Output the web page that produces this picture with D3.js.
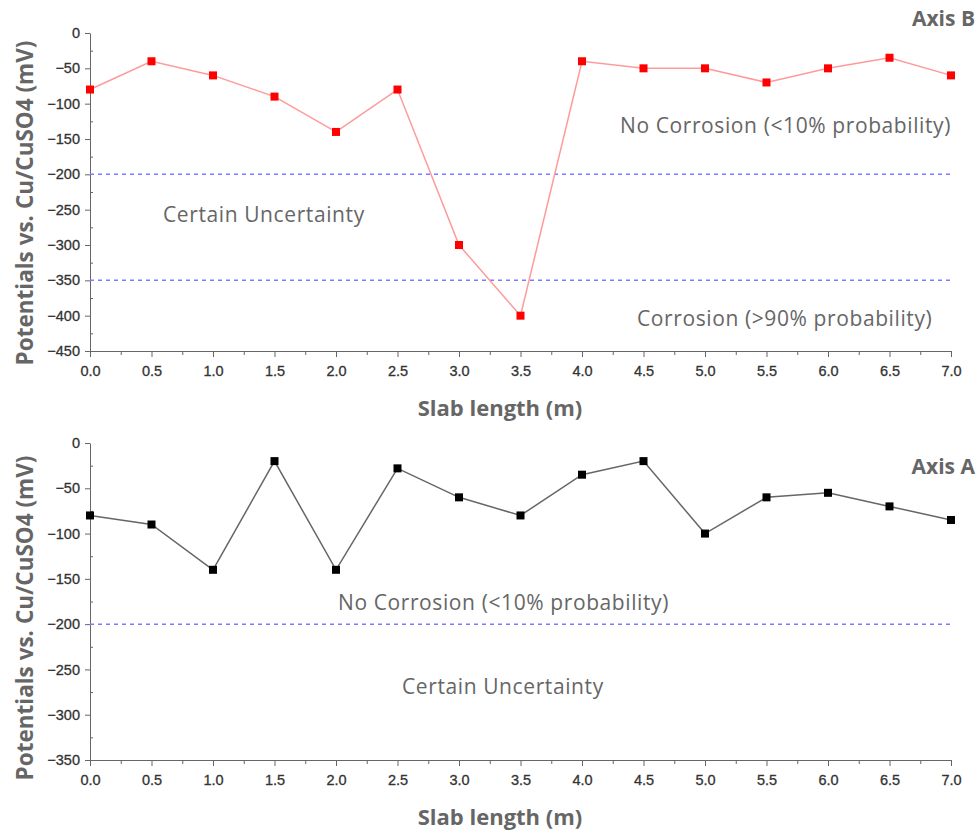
<!DOCTYPE html>
<html>
<head>
<meta charset="utf-8">
<script src="https://cdn.jsdelivr.net/npm/d3@7"></script>
<style>
  body { margin: 0; background: #fff; }
  .domain, .tick line { stroke: #666; }
</style>
</head>
<body>
<script>
// slab positions (m)
var slab = [0, 0.5, 1, 1.5, 2, 2.5, 3, 3.5, 4, 4.5, 5, 5.5, 6, 6.5, 7];
// potentials (mV)
var axisB = [-80, -40, -60, -90, -140, -80, -300, -400, -40, -50, -50, -70, -50, -35, -60];
var axisA = [-80, -90, -140, -20, -140, -28, -60, -80, -35, -20, -100, -60, -55, -70, -85];
var xTicks = [0, 0.5, 1, 1.5, 2, 2.5, 3, 3.5, 4, 4.5, 5, 5.5, 6, 6.5, 7];
var yTicksB = [0, -50, -100, -150, -200, -250, -300, -350, -400, -450];
var yTicksA = [0, -50, -100, -150, -200, -250, -300, -350];
var limitsB = [-200, -350];
var limitsA = [-200];
var notesB = ["No Corrosion (<10% probability)", "Certain Uncertainty", "Corrosion (>90% probability)"];
var notesA = ["No Corrosion (<10% probability)", "Certain Uncertainty"];

var width = 977;
var height = 835;

var svg = d3.select('body')
    .append('svg')
    .attr('width', width)
    .attr('height', height);

// tick label look
function styleTicks(s) {
    s.selectAll('.tick text')
        .attr('font-family', '"Liberation Sans", Arial, sans-serif')
        .attr('font-size', 14.5)
        .attr('fill', '#333')
        .attr('stroke', '#333')
        .attr('stroke-width', 0.3);
}

function drawPanel(opt) {
    var g = svg.append('g');
    var x = d3.scaleLinear().domain([0, 7]).range([90, 951]);
    var y = d3.scaleLinear().domain([opt.yMin, 0]).range([opt.bottom, opt.top]);

    // minor ticks
    g.append('g')
        .attr('transform', 'translate(0,' + opt.bottom + ')')
        .call(d3.axisBottom(x).tickValues(d3.range(0.25, 7, 0.5)).tickSize(4).tickFormat(''))
        .call(function(s) { s.select('.domain').remove(); });
    g.append('g')
        .attr('transform', 'translate(90,0)')
        .call(d3.axisRight(y).tickValues(d3.range(-25, opt.yMin, -50)).tickSize(3).tickFormat(''))
        .call(function(s) { s.select('.domain').remove(); });

    g.append('g')
        .attr('transform', 'translate(0,' + opt.bottom + ')')
        .call(d3.axisBottom(x).tickValues(xTicks).tickSize(6).tickSizeOuter(0).tickPadding(9)
            .tickFormat(d3.format('.1f')))
        .call(styleTicks);
    g.append('g')
        .attr('transform', 'translate(90,0)')
        .call(d3.axisLeft(y).tickValues(opt.yTicks).tickSize(5).tickSizeOuter(0).tickPadding(5))
        .call(styleTicks);

    // threshold lines
    g.selectAll('.limit')
        .data(opt.limits)
        .enter()
        .append('line')
        .attr('x1', x(0)).attr('x2', x(7))
        .attr('y1', function(d) { return y(d); })
        .attr('y2', function(d) { return y(d); })
        .attr('stroke', '#7b7bff')
        .attr('stroke-width', 1.5)
        .attr('stroke-dasharray', '4,4');

    var pts = slab.map(function(s, i) { return [s, opt.values[i]]; });
    var line = d3.line()
        .x(function(d) { return x(d[0]); })
        .y(function(d) { return y(d[1]); });
    g.append('path')
        .datum(pts)
        .attr('d', line)
        .attr('fill', 'none')
        .attr('stroke', opt.lineColor)
        .attr('stroke-width', 1.5);
    g.selectAll('.pt')
        .data(pts)
        .enter()
        .append('rect')
        .attr('x', function(d) { return x(d[0]) - 4; })
        .attr('y', function(d) { return y(d[1]) - 4; })
        .attr('width', 8)
        .attr('height', 8)
        .attr('fill', opt.markColor);

    // annotation text
    g.selectAll('.note')
        .data(opt.notes)
        .enter()
        .append('text')
        .attr('x', function(d, i) { return opt.notePos[i][0]; })
        .attr('y', function(d, i) { return opt.notePos[i][1]; })
        .attr('font-family', '"Open Sans", sans-serif')
        .attr('font-size', 21)
        .attr('letter-spacing', 0.6)
        .attr('fill', '#666')
        .text(function(d) { return d; });

    g.append('text')
        .attr('x', 975)
        .attr('y', opt.nameY)
        .attr('text-anchor', 'end')
        .attr('font-family', '"Open Sans", sans-serif')
        .attr('font-weight', 700)
        .attr('font-size', 21)
        .attr('fill', '#666')
        .text(opt.name);

    g.append('text')
        .attr('x', 500)
        .attr('y', opt.bottom + 65)
        .attr('text-anchor', 'middle')
        .attr('font-family', '"Open Sans", sans-serif')
        .attr('font-weight', 700)
        .attr('font-size', 22)
        .attr('fill', '#666')
        .text('Slab length (m)');

    g.append('text')
        .attr('transform', 'translate(33,' + opt.titleY + ') rotate(-90)')
        .attr('text-anchor', 'middle')
        .attr('font-family', '"Open Sans", sans-serif')
        .attr('font-weight', 700)
        .attr('font-size', 22.5)
        .attr('fill', '#666')
        .text('Potentials vs. Cu/CuSO4 (mV)');
}

drawPanel({
    top: 33, bottom: 351, yMin: -450, yTicks: yTicksB, limits: limitsB,
    values: axisB, lineColor: '#ff9a9a', markColor: '#ff0000',
    notes: notesB, notePos: [[620, 133], [163, 222], [637, 326]],
    name: 'Axis B', nameY: 26, titleY: 203
});

drawPanel({
    top: 443, bottom: 760, yMin: -350, yTicks: yTicksA, limits: limitsA,
    values: axisA, lineColor: '#666', markColor: '#000',
    notes: notesA, notePos: [[338, 610], [402, 694]],
    name: 'Axis A', nameY: 474, titleY: 618
});
</script>
</body>
</html>
